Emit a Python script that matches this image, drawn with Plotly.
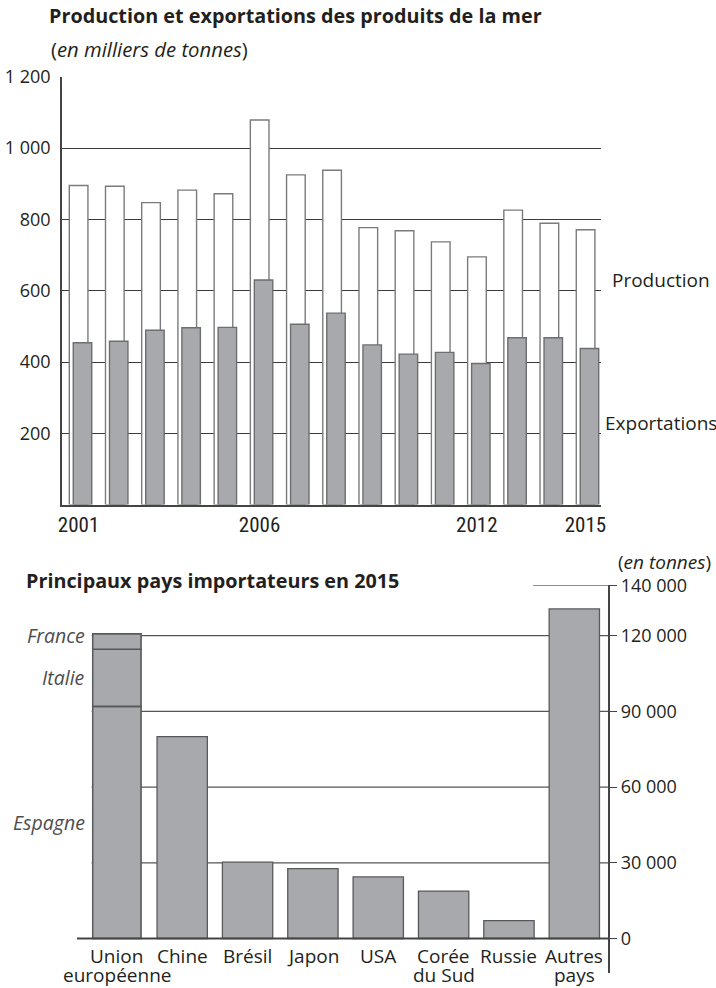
import plotly.graph_objects as go

# ---------------- data ----------------
years = list(range(2001, 2016))
production = [895, 893, 847, 882, 872, 1079, 925, 938, 777, 768, 737, 695, 826, 789, 771]
exportations = [454, 458, 489, 496, 497, 630, 506, 537, 448, 422, 427, 396, 468, 468, 438]
top_yticks = [200, 400, 600, 800, 1000, 1200]
top_ytext = ["200", "400", "600", "800", "1 000", "1 200"]
top_xticks = [2001, 2006, 2012, 2015]

pays = ["Union<br>européenne", "Chine", "Brésil", "Japon", "USA",
        "Corée<br>du Sud", "Russie", "Autres<br>pays"]
autres_imports = [80000, 30300, 27700, 24400, 18800, 7100, 130600]
ue_members = ["Espagne", "Italie", "France"]
ue_values = [92000, 22600, 6100]
bottom_yticks = [0, 30000, 60000, 90000, 120000, 140000]
bottom_ytext = ["0", "30 000", "60 000", "90 000", "120 000", "140 000"]

# ---------------- style ----------------
FONT = "Open Sans"
NARROW = "Liberation Sans Narrow, Roboto Condensed, Open Sans"
TXT = "#231f20"
GRID = "#3a3a3a"
BAR_FILL = "#a7a9ac"
BAR_LINE = "#6d6e71"
W, H = 716, 988

def px_x(p):
    return p / W

def px_y(p):
    return 1 - p / H

fig = go.Figure()

# ---- top chart ----
fig.add_trace(go.Bar(
    x=years, y=production, name="Production",
    marker=dict(color="white", line=dict(color="#7a7b7d", width=1.4)),
    offset=-0.255, width=0.515, xaxis="x", yaxis="y", showlegend=False,
))
fig.add_trace(go.Bar(
    x=years, y=exportations, name="Exportations",
    marker=dict(color=BAR_FILL, line=dict(color=BAR_LINE, width=1.4)),
    offset=-0.145, width=0.51, xaxis="x", yaxis="y", showlegend=False,
))

# ---- bottom chart ----
cum = 0
for name, v in zip(ue_members, ue_values):
    fig.add_trace(go.Bar(
        x=[pays[0]], y=[v], base=[cum], name=name,
        marker=dict(color=BAR_FILL, line=dict(color="#58595b", width=1.6)),
        width=0.74, xaxis="x2", yaxis="y2", showlegend=False,
    ))
    cum += v
fig.add_trace(go.Bar(
    x=pays[1:], y=autres_imports, name="Importations",
    marker=dict(color=BAR_FILL, line=dict(color="#58595b", width=1.3)),
    width=0.77, xaxis="x2", yaxis="y2", showlegend=False,
))

shapes = []
for v in bottom_yticks[1:-1]:
    shapes.append(dict(type="line", xref="paper", yref="y2",
                       x0=px_x(91.7), x1=px_x(608.3), y0=v, y1=v,
                       line=dict(color="#555555", width=1.3), layer="below"))
shapes.append(dict(type="line", xref="paper", yref="y2",
                   x0=px_x(533), x1=px_x(608.3), y0=bottom_yticks[-1], y1=bottom_yticks[-1],
                   line=dict(color="#333333", width=1.3), layer="below"))
shapes.append(dict(type="line", xref="paper", yref="y2",
                   x0=px_x(77), x1=px_x(608.3), y0=0, y1=0,
                   line=dict(color="#444444", width=2), layer="above"))

TITLE_FONT = dict(size=19.8, color=TXT, family=FONT, weight=700)
annotations = [
    dict(text="Production et exportations des produits de la mer",
         xref="paper", yref="paper", x=px_x(47), y=px_y(15),
         xanchor="left", yanchor="middle", showarrow=False, font=TITLE_FONT),
    dict(text="(<i>en milliers de tonnes</i>)",
         xref="paper", yref="paper", x=px_x(49), y=px_y(49),
         xanchor="left", yanchor="middle", showarrow=False,
         font=dict(size=20.3, color=TXT, family=FONT)),
    dict(text="Production", xref="paper", yref="paper", x=px_x(610), y=px_y(280),
         xanchor="left", yanchor="middle", showarrow=False,
         font=dict(size=19, color=TXT, family=FONT)),
    dict(text="Exportations", xref="paper", yref="paper", x=px_x(603), y=px_y(423),
         xanchor="left", yanchor="middle", showarrow=False,
         font=dict(size=19, color=TXT, family=FONT)),
    dict(text="Principaux pays importateurs en 2015",
         xref="paper", yref="paper", x=px_x(24), y=px_y(580),
         xanchor="left", yanchor="middle", showarrow=False, font=TITLE_FONT),
    dict(text="(<i>en tonnes</i>)",
         xref="paper", yref="paper", x=px_x(713), y=px_y(562),
         xanchor="right", yanchor="middle", showarrow=False,
         font=dict(size=19, color=TXT, family=FONT)),
]
cum = 0
shifts = {"France": 6, "Italie": 0, "Espagne": 0}
for name, v in zip(ue_members, ue_values):
    annotations.append(dict(
        text=f"<i>{name}</i>", xref="paper", yref="y2",
        x=px_x(87), y=cum + v / 2, yshift=shifts[name],
        xanchor="right", yanchor="middle", showarrow=False,
        font=dict(size=19.5, color="#4d4d4f", family=FONT)))
    cum += v

# category labels below the bottom chart, two rows with tight spacing
for p in pays:
    parts = p.split("<br>")
    for row, part in enumerate(parts):
        annotations.append(dict(
            text=part, xref="x2", yref="paper", x=p,
            y=px_y(956 + 18.5 * row), xanchor="center", yanchor="middle",
            showarrow=False, font=dict(size=19, color=TXT, family=FONT)))

fig.update_layout(
    width=W, height=H,
    margin=dict(l=0, r=0, t=0, b=0, autoexpand=False),
    paper_bgcolor="white", plot_bgcolor="white",
    barmode="overlay",
    font=dict(family=FONT, color=TXT, size=18),
    shapes=shapes, annotations=annotations,
    xaxis=dict(domain=[px_x(62), px_x(600.7)], range=[2000.544, 2015.42],
               tickvals=top_xticks, ticktext=[str(t) for t in top_xticks],
               showgrid=False, zeroline=False, showline=True,
               linecolor="#444444", linewidth=2, ticks="", tickangle=0,
               tickfont=dict(size=21, family=NARROW), anchor="y", automargin=False),
    yaxis=dict(domain=[px_y(504.6), px_y(76.8)], range=[0, 1200],
               tickvals=top_yticks, ticktext=top_ytext,
               showgrid=True, gridcolor=GRID, gridwidth=1.3,
               zeroline=False, showline=True, linecolor="#444444", linewidth=1.5,
               ticks="", ticklabelstandoff=6, tickfont=dict(size=18), anchor="x",
               automargin=False),
    xaxis2=dict(domain=[px_x(91.7), px_x(608.3)], range=[-0.385, 7.52],
                type="category", anchor="free", position=px_y(938.5),
                showgrid=False, zeroline=False, showline=False, ticks="",
                showticklabels=False, automargin=False),
    yaxis2=dict(domain=[px_y(973), px_y(585.2)], range=[-13670, 140000],
                tickvals=bottom_yticks, ticktext=bottom_ytext,
                side="right", anchor="x2",
                showgrid=False, zeroline=False, showline=True,
                linecolor="#444444", linewidth=1.5,
                ticks="outside", ticklen=7, tickcolor="#444444", tickwidth=1.3,
                tickfont=dict(size=18), automargin=False),
)

fig.write_html("out.html", config={"displayModeBar": False},
               post_script="document.body.style.margin='0';")
